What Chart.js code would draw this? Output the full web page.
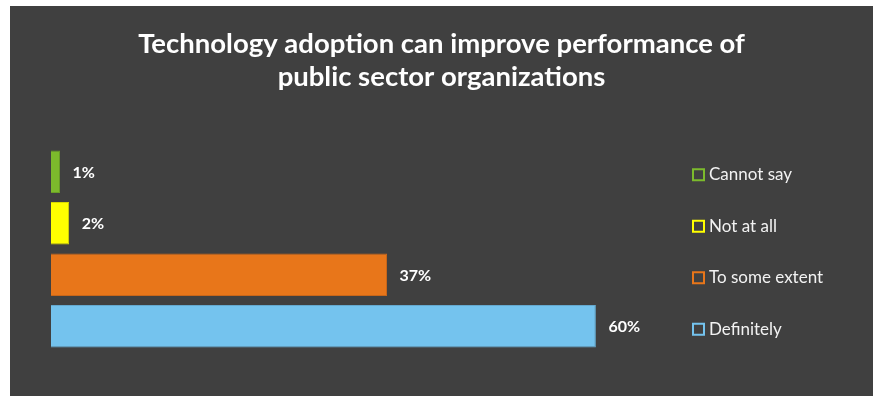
<!DOCTYPE html>
<html>
<head>
<meta charset="utf-8">
<script src="https://cdn.jsdelivr.net/npm/chart.js@4.4.1/dist/chart.umd.min.js"></script>
<style>
  html, body { margin:0; padding:0; background:#ffffff; }
  #panel { position:absolute; left:10px; top:6px; width:863px; height:390px; background:#404040; }
</style>
</head>
<body>
<div id="panel"><canvas id="chart-adocao"></canvas></div>
<script>
// respostas da pesquisa (%)
var categorias = ['Cannot say', 'Not at all', 'To some extent', 'Definitely'];
var percentuais = [1, 2, 37, 60];
var cores = ['#7cba2c', '#ffff00', '#e8761a', '#74c3ee'];
var bordas = ['#6a9f25', '#d9d900', '#c8661a', '#65a9cf'];
var titulo = ['Technology adoption can improve performance of', 'public sector organizations'];

var FONTE = 'Lato, "Open Sans", sans-serif';

// rótulos de valor + legenda alinhada com cada barra
var rotulosPlugin = {
  id: 'rotulos',
  afterDatasetsDraw: function(chart) {
    var ctx = chart.ctx;
    var meta = chart.getDatasetMeta(0);
    ctx.save();
    meta.data.forEach(function(bar, i) {
      // valor à direita da barra
      ctx.fillStyle = '#ffffff';
      ctx.font = 'bold 16px ' + FONTE;
      ctx.textAlign = 'left';
      ctx.textBaseline = 'middle';
      ctx.fillText(percentuais[i] + '%', bar.x + 12.5, bar.y + 1);

      // legenda
      var lx = 683, ly = bar.y + 3;
      ctx.strokeStyle = cores[i];
      ctx.lineWidth = 2;
      ctx.strokeRect(lx, ly - 5.5, 11, 11);
      ctx.fillStyle = '#f2f2f2';
      ctx.font = '17px ' + FONTE;
      ctx.fillText(categorias[i], lx + 16, ly);
    });
    ctx.restore();
  }
};

new Chart(document.getElementById('chart-adocao'), {
  type: 'bar',
  data: {
    labels: categorias,
    datasets: [{
      data: percentuais,
      backgroundColor: cores,
      borderColor: bordas,
      borderWidth: 1,
      borderSkipped: 'left',
      barPercentage: 0.83,
      categoryPercentage: 1
    }]
  },
  options: {
    indexAxis: 'y',
    responsive: true,
    maintainAspectRatio: false,
    animation: false,
    // padding simétrico para o título ficar centrado no painel
    layout: { padding: { left: 41, right: 41, top: 0, bottom: 44 } },
    plugins: {
      legend: { display: false },
      tooltip: { enabled: false },
      title: {
        display: true,
        text: titulo,
        color: '#ffffff',
        font: { family: FONTE, size: 27.5, weight: 'bold', lineHeight: 1.2 },
        padding: { top: 22, bottom: 52 }
      }
    },
    scales: {
      x: { display: false, min: 0, max: 86 },
      y: { display: false }
    }
  },
  plugins: [rotulosPlugin]
});
</script>
</body>
</html>
